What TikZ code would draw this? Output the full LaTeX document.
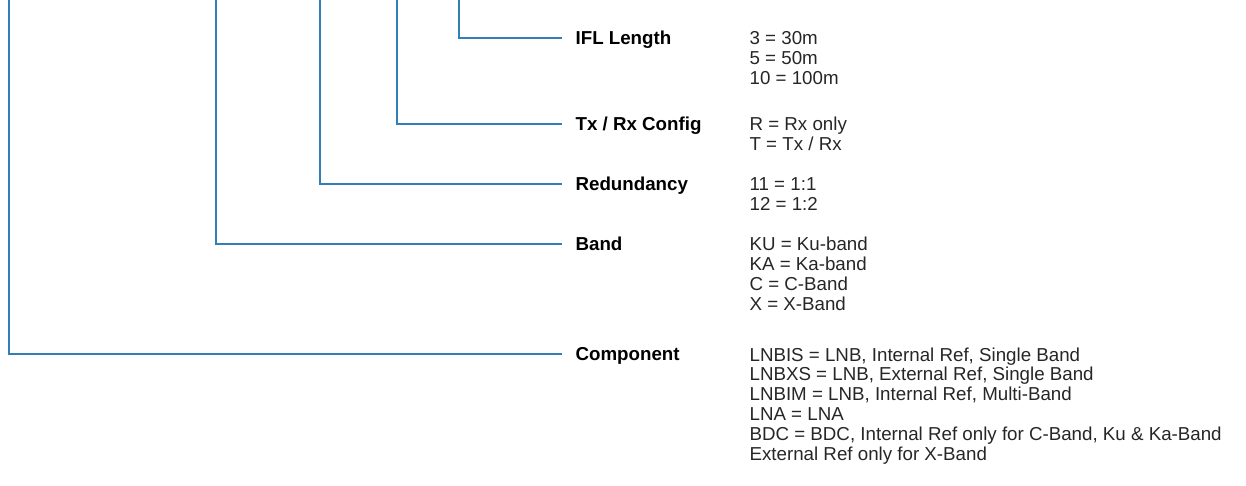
\documentclass[tikz,border=0pt]{standalone}
\usepackage{fontspec}
\setmainfont{Liberation Sans}
\usetikzlibrary{calc}

\begin{document}
\begin{tikzpicture}[x=1bp, y=-1bp, line width=1.2bp]
    \definecolor{leadblue}{RGB}{50,126,182}\colorlet{codetext}{black!85}
    \tikzset{
      lead/.style={draw=leadblue, line width=1.2bp},
      field/.style={anchor=west, inner xsep=13bp, inner ysep=0pt, text height=13.4bp, text depth=0pt,
        font=\fontsize{18.8}{20}\selectfont\bfseries},
      codes/.style={anchor=base west, inner sep=0pt, align=left, text=codetext,
        font=\fontsize{18.8}{20}\selectfont}
    }
    \useasboundingbox (0,0) rectangle (1246,486);
    \coordinate (Tcomp) at (9, 0);
    \coordinate (Tband) at (216, 0);
    \coordinate (Tred)  at (320, 0);
    \coordinate (Ttx)   at (397, 0);
    \coordinate (Tifl)  at (459, 0);
    \node[field] (ifl)  at (562, 38)  {IFL Length};
    \node[field] (tx)   at (562, 124) {Tx / Rx Config};
    \node[field] (red)  at (562, 184) {Redundancy};
    \node[field] (band) at (562, 244) {Band};
    \node[field] (comp) at (562, 354) {Component};
    \draw[lead] (Tifl)  |- (ifl.west);
    \draw[lead] (Ttx)   |- (tx.west);
    \draw[lead] (Tred)  |- (red.west);
    \draw[lead] (Tband) |- (band.west);
    \draw[lead] (Tcomp) |- (comp.west);
    % base west sits on the last line of each list
    \node[codes] (iflcodes)  at (749, 84.7)  {3 = 30m\\5 = 50m\\10 = 100m};
    \node[codes] (txcodes)   at (749, 150.7) {R = Rx only\\T = Tx / Rx};
    \node[codes] (redcodes)  at (749, 210.7) {11 = 1:1\\12 = 1:2};
    \node[codes] (bandcodes) at (749, 310.7) {KU = Ku-band\\KA = Ka-band\\C = C-Band\\X = X-Band};
    \node[codes] (compcodes) at (749, 460.7) {LNBIS = LNB, Internal Ref, Single Band\\
      LNBXS = LNB, External Ref, Single Band\\LNBIM = LNB, Internal Ref, Multi-Band\\LNA = LNA\\
      BDC = BDC, Internal Ref only for C-Band, Ku \& Ka-Band\\External Ref only for X-Band};
  \end{tikzpicture}
\end{document}
